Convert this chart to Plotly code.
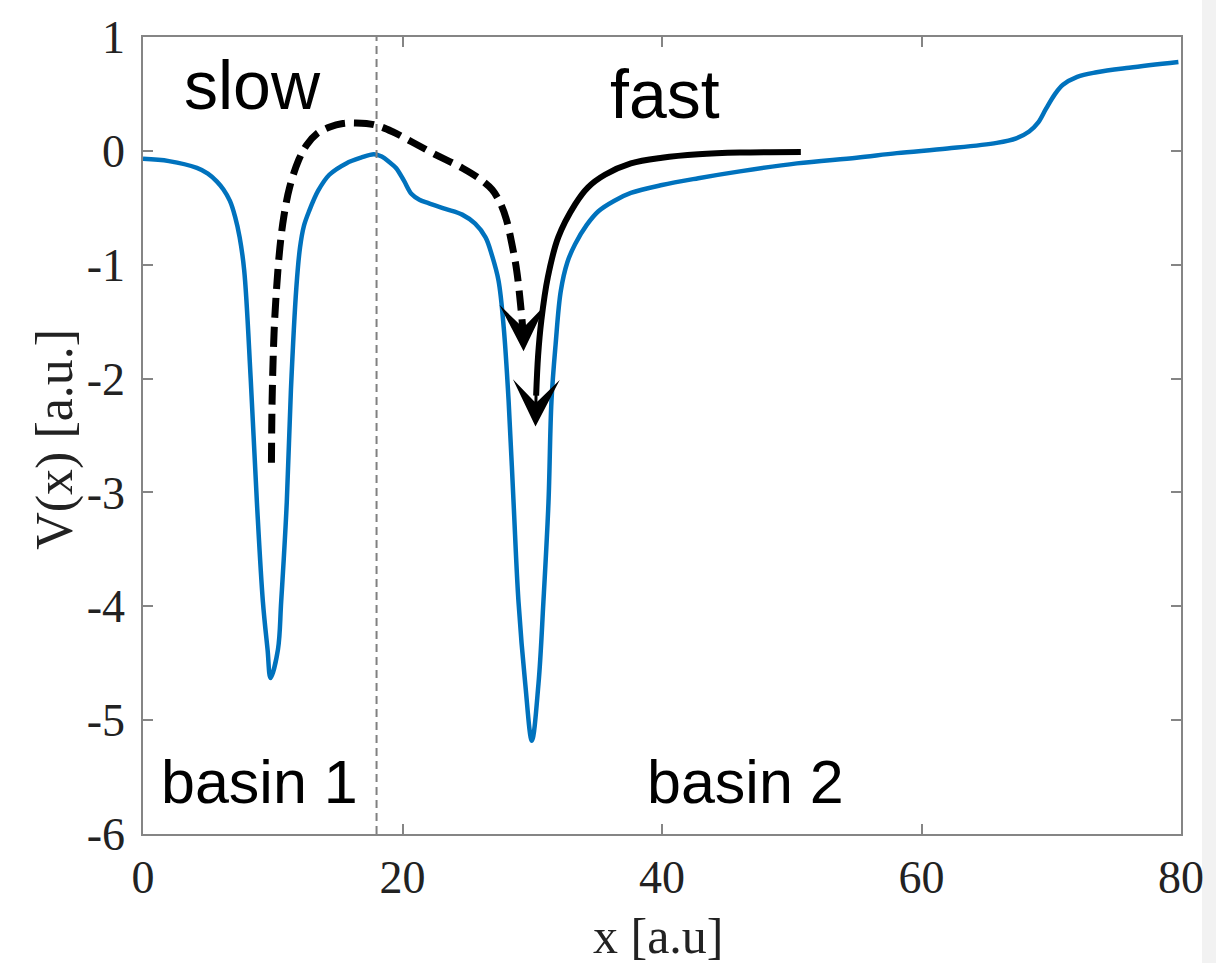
import plotly.graph_objects as go

# Potential V(x) (blue curve)
pot_x = [0, 2, 4.15, 5.0, 5.7, 6.2, 6.7, 7.1, 7.45, 7.8, 8.3, 8.78, 9.24, 9.6, 9.83,
         10.4, 10.65, 11.08, 11.4, 11.82, 12.1, 12.4, 12.8, 13.5, 14.36, 15.66, 16.8,
         17.8, 18.4, 19.0, 19.5, 20.1, 20.7, 21.3, 22.0, 23.3, 24.6, 25.6, 26.4, 26.9, 27.4,
         27.8, 28.18, 28.56, 28.94, 29.46, 29.97, 30.48, 30.86, 31.25, 31.48, 31.8, 32.2,
         32.7, 33.3, 34.2, 35.1, 36.3, 37.6, 40, 42.8, 46, 50.4, 55, 58.1, 62, 65.8, 67.3,
         68.3, 69.0, 69.6, 70.3, 70.9, 72, 73.5, 76, 79.8]
pot_y = [-0.07, -0.09, -0.15, -0.2, -0.27, -0.34, -0.44, -0.58, -0.76, -1.05, -2.0,
         -3.09, -3.96, -4.38, -4.63, -4.38, -3.96, -3.09, -2.1, -1.2, -0.85, -0.66,
         -0.53, -0.35, -0.21, -0.11, -0.06, -0.03, -0.05, -0.1, -0.15, -0.26, -0.38, -0.43,
         -0.46, -0.51, -0.56, -0.64, -0.76, -0.92, -1.14, -1.55, -2.2, -3.09, -3.96, -4.68,
         -5.18, -4.68, -3.96, -3.09, -2.2, -1.7, -1.23, -0.98, -0.82, -0.65, -0.53, -0.44,
         -0.37, -0.3, -0.24, -0.18, -0.11, -0.06, -0.02, 0.02, 0.07, 0.11, 0.17, 0.25, 0.37,
         0.5, 0.58, 0.65, 0.69, 0.73, 0.78]

# "slow" path (dashed) from basin 1 over the barrier into basin 2
slow_x = [9.9, 9.95, 10.1, 10.3, 10.55, 10.85, 11.3, 12.0, 12.6, 13.4, 14.4, 15.4, 16.4,
          17.8, 19.2, 20.7, 22.5, 24.6, 26.0, 26.9, 27.5, 28.0, 28.4, 28.8, 29.1, 29.3]
slow_y = [-2.74, -2.2, -1.6, -1.2, -0.85, -0.58, -0.32, -0.08, 0.05, 0.15, 0.21, 0.24,
          0.245, 0.23, 0.17, 0.08, -0.03, -0.15, -0.25, -0.34, -0.45, -0.6, -0.8, -1.05,
          -1.35, -1.6]

# "fast" path (solid) from outside into basin 2
fast_x = [50.7, 46, 42.8, 40, 37.6, 35.6, 34.3, 33.3, 32.0, 31.2, 30.7, 30.45, 30.3]
fast_y = [-0.01, -0.015, -0.03, -0.06, -0.11, -0.21, -0.32, -0.47, -0.76, -1.11, -1.49,
          -1.8, -2.15]

# arrow heads: (tail, tip)
arrow_tail_x = [29.3, 30.3]
arrow_tail_y = [-1.55, -2.1]
arrow_tip_x = [29.33, 30.25]
arrow_tip_y = [-1.76, -2.42]

divider_x = 18

x_ticks = [0, 20, 40, 60, 80]
y_ticks = [1, 0, -1, -2, -3, -4, -5, -6]

fig = go.Figure()
fig.add_trace(go.Scatter(x=pot_x, y=pot_y, mode="lines",
                         line=dict(color="#0072BD", width=4.5, shape="spline", smoothing=1.0),
                         showlegend=False))
fig.add_trace(go.Scatter(x=slow_x, y=slow_y, mode="lines",
                         line=dict(color="black", width=7, dash="20px,9px", shape="spline",
                                   smoothing=1.0),
                         showlegend=False))
fig.add_trace(go.Scatter(x=fast_x, y=fast_y, mode="lines",
                         line=dict(color="black", width=6, shape="spline", smoothing=1.0),
                         showlegend=False))
fig.add_trace(go.Scatter(x=[divider_x, divider_x], y=[-6, 1], mode="lines",
                         line=dict(color="#808080", width=2, dash="8px,5px"),
                         showlegend=False))

for tx, ty, hx, hy in zip(arrow_tail_x, arrow_tail_y, arrow_tip_x, arrow_tip_y):
    fig.add_annotation(x=hx, y=hy, ax=tx, ay=ty, xref="x", yref="y", axref="x", ayref="y",
                       text="", showarrow=True, arrowhead=3, arrowsize=2.6, arrowwidth=3,
                       arrowcolor="black", standoff=0, startstandoff=0)

txt_font = "Liberation Sans, Arial, sans-serif"
fig.add_annotation(x=8.45, y=0.58, xref="x", yref="y", text="slow", showarrow=False,
                   font=dict(family=txt_font, size=68, color="black"))
fig.add_annotation(x=40.2, y=0.5, xref="x", yref="y", text="fast", showarrow=False,
                   font=dict(family=txt_font, size=68, color="black"))
fig.add_annotation(x=9.0, y=-5.54, xref="x", yref="y", text="basin 1", showarrow=False,
                   font=dict(family=txt_font, size=61, color="black"))
fig.add_annotation(x=46.4, y=-5.54, xref="x", yref="y", text="basin 2", showarrow=False,
                   font=dict(family=txt_font, size=61, color="black"))

serif = "Liberation Serif, Times New Roman, serif"
fig.add_annotation(x=-0.0845, y=0.495, xref="paper", yref="paper", text="V(x) [a.u.]",
                   textangle=-90, showarrow=False, xanchor="center", yanchor="middle",
                   font=dict(family=serif, size=52, color="#222222"))
fig.add_annotation(x=0.497, y=-0.128, xref="paper", yref="paper", text="x [a.u]",
                   showarrow=False, xanchor="center", yanchor="middle",
                   font=dict(family=serif, size=50, color="#222222"))

fig.add_shape(type="rect", xref="paper", yref="paper", x0=1.0202, x1=1.1, y0=-0.2, y1=1.1,
              fillcolor="#f2f2f2", line=dict(width=0), layer="below")

axis_common = dict(showgrid=False, zeroline=False, showline=True, linecolor="#858585",
                   linewidth=1.5, mirror="ticks", ticks="inside", ticklen=10, tickwidth=1.5,
                   tickcolor="#858585",
                   tickfont=dict(family=serif, size=46, color="#222222"))

fig.update_xaxes(range=[0, 80], tickvals=x_ticks, ticktext=[str(v) for v in x_ticks],
                 ticklabelstandoff=2, **axis_common)
fig.update_yaxes(range=[-6, 1], tickvals=y_ticks, ticktext=[str(v) for v in y_ticks],
                 ticklabelstandoff=7, **axis_common)

fig.update_layout(width=1216, height=963, margin=dict(l=143, r=31, t=31, b=129),
                  paper_bgcolor="white", plot_bgcolor="white", showlegend=False)

fig.write_html("out.html")
